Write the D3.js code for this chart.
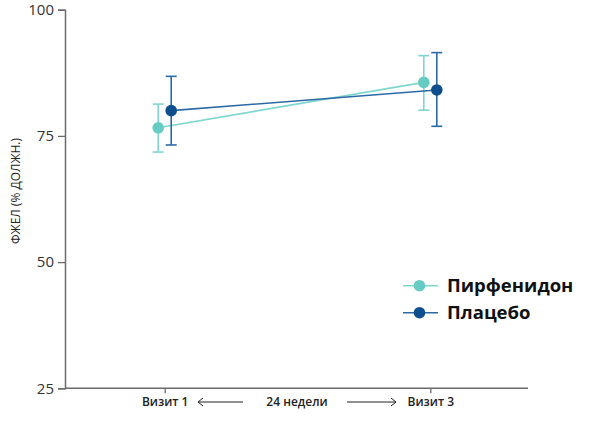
<!DOCTYPE html>
<html><head><meta charset="utf-8">
<script src="https://cdn.jsdelivr.net/npm/d3@7"></script>
<style>body{margin:0;background:#fff}svg{display:block}</style>
</head><body>
<svg id="c" width="600" height="421"></svg>
<script>
const visits = ["Визит 1", "Визит 3"];
const seriesNames = ["Пирфенидон", "Плацебо"];
const pirfMean = [76.6, 85.6];
const pirfLow = [71.8, 80.1];
const pirfHigh = [81.3, 90.9];
const placMean = [80.0, 84.1];
const placLow = [73.2, 76.9];
const placHigh = [86.8, 91.5];
const yTicks = [25, 50, 75, 100];
const yLabel = "ФЖЕЛ (% ДОЛЖН.)";
const midLabel = "24 недели";

const series = [
  {name: seriesNames[0], mean: pirfMean, lo: pirfLow, hi: pirfHigh, dot: "#66cbc3", line: "#7fd6cf", err: "#7fd6cf", off: -6.5},
  {name: seriesNames[1], mean: placMean, lo: placLow, hi: placHigh, dot: "#0d4f8e", line: "#2c6aa6", err: "#2c6aa6", off: 6.5}
];

const svg = d3.select("#c");
const x = d3.scalePoint().domain(visits).range([164.7, 430.3]);
const y = d3.scaleLinear().domain([25, 100]).range([388.3, 9.7]);
const font = "'Open Sans', 'Segoe UI', sans-serif";

// Y axis
const ya = svg.append("g").attr("transform", "translate(65,0)")
  .call(d3.axisLeft(y).tickValues(yTicks).tickSize(7).tickPadding(4));
ya.select(".domain").attr("stroke", "#6b6b6b").attr("stroke-width", 1.5);
ya.selectAll(".tick line").attr("stroke", "#6b6b6b").attr("stroke-width", 1.3);
ya.selectAll(".tick text").attr("font-family", font).attr("font-size", 15).attr("fill", "#333");

// X axis line
const xa = svg.append("g").attr("transform", "translate(0,388.3)")
  .call(d3.axisBottom(x).tickSize(5).tickSizeOuter(0).tickFormat(() => ""));
xa.select(".domain").attr("d", "M65,0H528").attr("stroke", "#6b6b6b").attr("stroke-width", 1.5);
xa.selectAll(".tick line").attr("stroke", "#6b6b6b").attr("stroke-width", 1.3);
xa.selectAll(".tick").append("text").text(d => d)
  .attr("y", 18).attr("text-anchor", "middle")
  .attr("font-family", font).attr("font-size", 12).attr("font-weight", 600).attr("fill", "#222");

// middle label + arrows
const mid = (x(visits[0]) + x(visits[1])) / 2;
svg.append("text").text(midLabel).attr("x", mid - 0.5).attr("y", 406.3)
  .attr("text-anchor", "middle").attr("font-family", font).attr("font-size", 12).attr("font-weight", 600).attr("fill", "#222");
const ay = 402;
const ag = svg.append("g").attr("stroke", "#222").attr("stroke-width", 1).attr("fill", "none");
ag.append("line").attr("x1", 198).attr("x2", 243).attr("y1", ay).attr("y2", ay);
ag.append("path").attr("d", `M203,${ay-4}L198,${ay}L203,${ay+4}`);
ag.append("line").attr("x1", 347).attr("x2", 396).attr("y1", ay).attr("y2", ay);
ag.append("path").attr("d", `M391,${ay-4}L396,${ay}L391,${ay+4}`);

// y label
svg.append("text").text(yLabel)
  .attr("transform", "translate(19.5,191) rotate(-90)")
  .attr("text-anchor", "middle").attr("font-family", font).attr("font-size", 12).attr("fill", "#222");

// series
series.forEach(s => {
  const g = svg.append("g");
  const px = i => x(visits[i]) + s.off;
  g.append("path").datum(s.mean)
    .attr("d", d3.line().x((d, i) => px(i)).y(d => y(d)))
    .attr("fill", "none").attr("stroke", s.line).attr("stroke-width", 1.6);
  s.mean.forEach((m, i) => {
    const cx = px(i);
    g.append("line").attr("x1", cx).attr("x2", cx).attr("y1", y(s.lo[i])).attr("y2", y(s.hi[i]))
      .attr("stroke", s.err).attr("stroke-width", 1.6);
    [s.lo[i], s.hi[i]].forEach(v => {
      g.append("line").attr("x1", cx - 5.5).attr("x2", cx + 5.5).attr("y1", y(v)).attr("y2", y(v))
        .attr("stroke", s.err).attr("stroke-width", 1.6);
    });
    g.append("circle").attr("cx", cx).attr("cy", y(m)).attr("r", 5.8).attr("fill", s.dot);
  });
});

// legend
series.forEach((s, i) => {
  const ly = 285.7 + i * 27;
  const g = svg.append("g");
  g.append("line").attr("x1", 403).attr("x2", 438).attr("y1", ly).attr("y2", ly)
    .attr("stroke", s.line).attr("stroke-width", 1.6);
  g.append("circle").attr("cx", 419.5).attr("cy", ly).attr("r", 5.8).attr("fill", s.dot);
  g.append("text").text(s.name).attr("x", 447).attr("y", ly + 6.5)
    .attr("font-family", font).attr("font-size", 18.5).attr("font-weight", 700).attr("fill", "#111");
});
</script>
</body></html>
